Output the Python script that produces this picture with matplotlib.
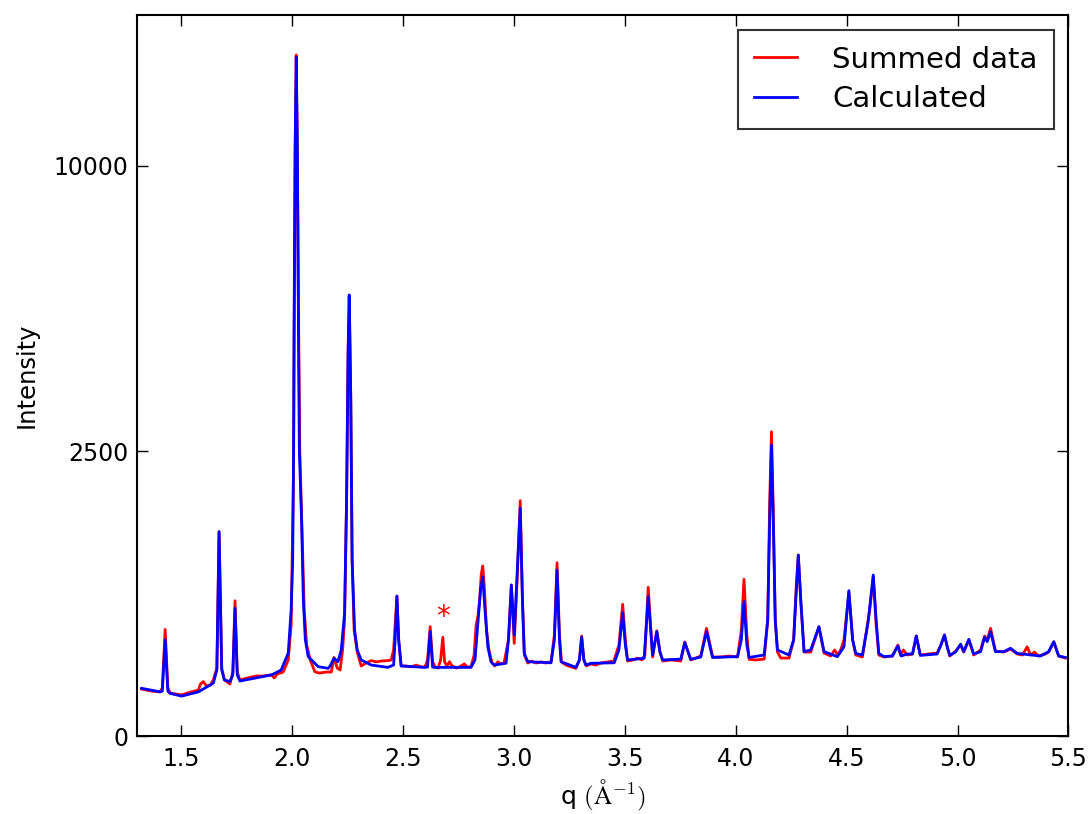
import numpy as np
import matplotlib
matplotlib.use('Agg')
import matplotlib.pyplot as plt

# values
q_calc = [1.321, 1.404, 1.414, 1.427, 1.439, 1.449, 1.501, 1.577, 1.644, 1.660, 1.670, 1.682,
          1.694, 1.719, 1.732, 1.742, 1.752, 1.764, 1.907, 1.950, 1.982, 1.995, 2.002, 2.006,
          2.008, 2.013, 2.018, 2.023, 2.028, 2.032, 2.042, 2.050, 2.059, 2.072, 2.117, 2.162,
          2.171, 2.188, 2.206, 2.221, 2.236, 2.245, 2.252, 2.257, 2.264, 2.270, 2.281, 2.293,
          2.311, 2.356, 2.431, 2.457, 2.464, 2.472, 2.480, 2.491, 2.596, 2.610, 2.622, 2.633,
          2.641, 2.806, 2.824, 2.838, 2.849, 2.859, 2.869, 2.882, 2.896, 2.911, 2.964, 2.975,
          2.988, 3.001, 3.014, 3.028, 3.038, 3.046, 3.062, 3.167, 3.182, 3.194, 3.205, 3.212,
          3.279, 3.295, 3.305, 3.315, 3.324, 3.347, 3.452, 3.473, 3.490, 3.502, 3.512, 3.587,
          3.605, 3.625, 3.644, 3.658, 3.670, 3.752, 3.770, 3.797, 3.842, 3.868, 3.895, 4.008,
          4.025, 4.037, 4.050, 4.060, 4.128, 4.144, 4.153, 4.161, 4.169, 4.178, 4.188, 4.240,
          4.261, 4.273, 4.282, 4.293, 4.308, 4.338, 4.375, 4.398, 4.458, 4.488, 4.510, 4.527,
          4.541, 4.571, 4.596, 4.620, 4.633, 4.645, 4.668, 4.706, 4.731, 4.746, 4.773, 4.797,
          4.814, 4.832, 4.908, 4.925, 4.941, 4.955, 4.965, 4.991, 5.014, 5.028, 5.051, 5.073,
          5.104, 5.122, 5.134, 5.149, 5.171, 5.209, 5.239, 5.269, 5.374, 5.411, 5.434, 5.456,
          5.486]
i_calc = [70, 60, 62, 284, 62, 56, 49, 60, 86, 134, 1285, 134,
          97, 91, 115, 502, 115, 93, 115, 134, 212, 489, 953, 2518,
          5070, 10570, 14190, 10570, 5070, 2518, 1436, 569, 284, 194, 148, 141,
          151, 186, 170, 228, 466, 1714, 4585, 5988, 3474, 953, 346, 228,
          178, 155, 145, 155, 284, 603, 284, 151, 145, 146, 335, 146,
          145, 145, 178, 414, 656, 781, 489, 245, 170, 155, 163, 284,
          702, 314, 814, 1596, 569, 210, 170, 165, 284, 848, 284, 170,
          145, 178, 300, 178, 155, 163, 165, 228, 468, 255, 178, 186,
          597, 202, 335, 217, 178, 182, 268, 181, 192, 335, 190, 194,
          284, 555, 255, 190, 202, 414, 1436, 2606, 1436, 414, 228, 202,
          284, 656, 1008, 569, 219, 228, 368, 219, 194, 245, 650, 284,
          210, 202, 391, 798, 414, 210, 194, 197, 249, 197, 207, 207,
          308, 200, 207, 255, 314, 238, 200, 217, 260, 219, 288, 207,
          219, 300, 274, 335, 219, 219, 237, 210, 197, 219, 274, 197,
          190]

q_sum = [1.320, 1.365, 1.404, 1.414, 1.427, 1.439, 1.449, 1.500, 1.545, 1.577, 1.586, 1.599,
         1.613, 1.631, 1.644, 1.660, 1.670, 1.682, 1.694, 1.719, 1.732, 1.742, 1.752, 1.764,
         1.815, 1.838, 1.869, 1.905, 1.919, 1.932, 1.959, 1.982, 1.995, 2.006, 2.009, 2.013,
         2.018, 2.023, 2.029, 2.034, 2.045, 2.054, 2.065, 2.081, 2.102, 2.122, 2.153, 2.176,
         2.188, 2.203, 2.216, 2.227, 2.236, 2.245, 2.252, 2.257, 2.264, 2.270, 2.279, 2.293,
         2.311, 2.333, 2.356, 2.378, 2.401, 2.431, 2.446, 2.457, 2.472, 2.480, 2.491, 2.514,
         2.536, 2.559, 2.581, 2.599, 2.610, 2.622, 2.633, 2.644, 2.658, 2.669, 2.679, 2.687,
         2.698, 2.709, 2.721, 2.743, 2.761, 2.776, 2.788, 2.806, 2.820, 2.829, 2.837, 2.845,
         2.852, 2.859, 2.867, 2.876, 2.887, 2.901, 2.914, 2.927, 2.937, 2.955, 2.975, 2.988,
         3.001, 3.014, 3.028, 3.038, 3.047, 3.062, 3.077, 3.099, 3.122, 3.144, 3.167, 3.182,
         3.194, 3.205, 3.214, 3.234, 3.257, 3.279, 3.295, 3.305, 3.315, 3.326, 3.347, 3.369,
         3.392, 3.423, 3.450, 3.473, 3.490, 3.502, 3.512, 3.536, 3.557, 3.577, 3.590, 3.605,
         3.625, 3.644, 3.658, 3.671, 3.707, 3.752, 3.770, 3.797, 3.842, 3.868, 3.896, 3.932,
         3.968, 4.008, 4.025, 4.037, 4.050, 4.060, 4.090, 4.128, 4.144, 4.153, 4.161, 4.169,
         4.178, 4.188, 4.203, 4.240, 4.261, 4.273, 4.282, 4.293, 4.308, 4.338, 4.375, 4.398,
         4.428, 4.446, 4.459, 4.473, 4.488, 4.510, 4.527, 4.541, 4.571, 4.590, 4.604, 4.620,
         4.633, 4.645, 4.668, 4.706, 4.731, 4.743, 4.756, 4.773, 4.797, 4.814, 4.832, 4.868,
         4.908, 4.925, 4.941, 4.955, 4.965, 4.991, 5.014, 5.028, 5.051, 5.073, 5.104, 5.122,
         5.134, 5.149, 5.171, 5.209, 5.239, 5.269, 5.293, 5.314, 5.329, 5.347, 5.365, 5.396,
         5.411, 5.434, 5.456, 5.486]
i_sum = [68, 62, 60, 71, 350, 71, 57, 52, 60, 65, 83, 91,
         77, 80, 97, 142, 1285, 142, 97, 83, 126, 563, 126, 97,
         107, 111, 111, 115, 104, 118, 126, 178, 379, 2178, 5070, 10570,
         14275, 10570, 5070, 2518, 1182, 489, 255, 178, 127, 122, 126, 126,
         190, 142, 134, 228, 414, 1714, 4585, 5959, 3474, 953, 346, 217,
         151, 164, 175, 169, 173, 175, 178, 228, 603, 284, 151, 151,
         147, 155, 147, 147, 178, 368, 169, 147, 142, 178, 300, 169,
         151, 170, 151, 142, 151, 160, 147, 147, 202, 379, 438, 569,
         798, 890, 656, 346, 228, 164, 151, 170, 160, 164, 284, 702,
         264, 749, 1704, 569, 202, 164, 173, 164, 169, 164, 170, 314,
         924, 314, 169, 155, 147, 141, 178, 308, 178, 151, 160, 155,
         164, 169, 173, 255, 534, 284, 173, 178, 187, 178, 202, 681,
         192, 341, 217, 173, 178, 173, 272, 178, 197, 357, 192, 192,
         197, 192, 346, 756, 314, 181, 178, 182, 414, 1714, 2850, 1572,
         414, 217, 187, 187, 284, 702, 1008, 569, 217, 217, 366, 212,
         197, 228, 202, 228, 284, 638, 284, 202, 192, 346, 489, 778,
         379, 202, 192, 197, 255, 202, 228, 202, 207, 308, 202, 207,
         212, 255, 314, 238, 197, 222, 255, 217, 284, 202, 228, 308,
         284, 357, 222, 217, 233, 207, 202, 245, 202, 217, 197, 207,
         217, 272, 197, 187]

x_ticks = [1.5, 2.0, 2.5, 3.0, 3.5, 4.0, 4.5, 5.0, 5.5]
y_ticks = [0, 2500, 10000]
star_q, star_i = 2.679, 436

plt.rcParams['mathtext.fontset'] = 'cm'
fig = plt.figure(figsize=(10.9, 8.14), dpi=100)
ax = fig.add_axes([0.1257, 0.0958, 0.8545, 0.8858])

ax.plot(q_sum, i_sum, color='red', lw=2, label='Summed data')
ax.plot(q_calc, i_calc, color='blue', lw=2, label='Calculated')
ax.text(star_q, star_i, '*', color='red', fontsize=20, ha='center', va='center')

ax.set_yscale('function', functions=(lambda v: np.sqrt(np.clip(v, 0, None)), lambda v: np.square(v)))
ax.set_xlim(1.3, 5.5)
ax.set_ylim(0, 16000)
ax.set_xticks(x_ticks)
ax.set_xticklabels([f'{t:.1f}' for t in x_ticks])
ax.set_yticks(y_ticks)
ax.set_yticklabels([str(t) for t in y_ticks])
ax.minorticks_off()
ax.tick_params(direction='in', top=True, right=True, length=8, width=1, labelsize=17)
ax.tick_params(axis='x', pad=8)
ax.tick_params(axis='y', pad=6)
for sp in ax.spines.values():
    sp.set_linewidth(1.5)

ax.set_xlabel(r'q $(\mathrm{\AA}^{-1})$', fontsize=18, labelpad=5)
ax.set_ylabel('Intensity', fontsize=17.5, labelpad=11)

leg = ax.legend(loc='upper right', fontsize=21, fancybox=False, handlelength=1.5,
                handletextpad=1.2, borderpad=0.55, labelspacing=0.4, borderaxespad=0.5)
leg.get_frame().set_edgecolor('black')
leg.get_frame().set_linewidth(1.5)

fig.savefig('out.png', dpi=100, facecolor='white')
